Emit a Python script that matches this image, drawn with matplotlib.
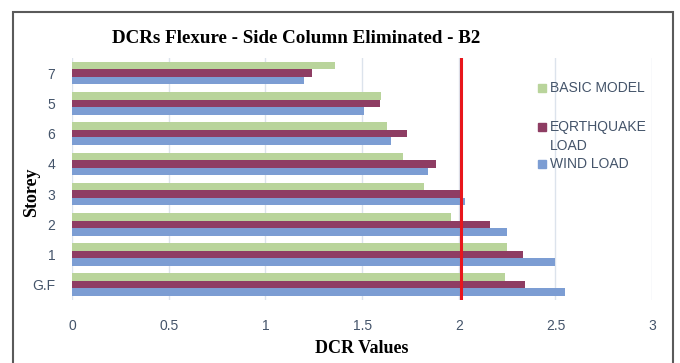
import matplotlib.pyplot as plt
import numpy as np
from matplotlib.patches import Rectangle

# data, listed top to bottom
storeys = ['7', '5', '6', '4', '3', '2', '1', 'G.F']
basic_model = [1.36, 1.60, 1.63, 1.71, 1.82, 1.96, 2.25, 2.24]
earthquake_load = [1.24, 1.59, 1.73, 1.88, 2.01, 2.16, 2.33, 2.34]
wind_load = [1.20, 1.51, 1.65, 1.84, 2.03, 2.25, 2.50, 2.55]
dcr_limit = 2.01
x_ticks = [0, 0.5, 1, 1.5, 2, 2.5, 3]
x_tick_labels = ['0', '0.5', '1', '1.5', '2', '2.5', '3']

series = [
    ('BASIC MODEL', basic_model, '#B9D49B'),
    ('EQRTHQUAKE\nLOAD', earthquake_load, '#8E3D63'),
    ('WIND LOAD', wind_load, '#7C9DD3'),
]

narrow = ['Liberation Sans Narrow', 'Liberation Sans', 'DejaVu Sans']
serif = ['Liberation Serif', 'DejaVu Serif']
text_col = '#44546A'

fig = plt.figure(figsize=(6.8, 3.63), dpi=100)
ax = fig.add_axes([0.106, 0.174, 0.853, 0.666])

y = np.arange(len(storeys))
h = 0.248
for i, (name, vals, col) in enumerate(series):
    ax.barh(y + (i - 1) * h, vals, height=h, color=col, edgecolor='none', zorder=2)

ax.axvline(dcr_limit, color='#E8161C', lw=2.2, zorder=3)

ax.set_xlim(0, 3)
ax.set_ylim(len(storeys) - 0.5, -0.5)
ax.set_xticks(x_ticks)
ax.set_xticklabels(x_tick_labels, family=narrow, fontsize=10, color=text_col)
ax.set_yticks(y)
ax.set_yticklabels(storeys, family=narrow, fontsize=10, color=text_col)
ax.tick_params(axis='x', length=0, pad=14)
ax.tick_params(axis='y', length=0, pad=12)
ax.grid(axis='x', color='#DCE3EC', lw=1, zorder=0)
for s in ax.spines.values():
    s.set_visible(False)

ax.set_xlabel('DCR Values', family=serif, fontweight='bold', fontsize=13, labelpad=5)
ax.set_ylabel('Storey', family=serif, fontweight='bold', fontsize=13)
ax.yaxis.set_label_coords(-0.055, 0.446)

fig.text(0.165, 0.895, 'DCRs Flexure - Side Column Eliminated - B2', family=serif,
         fontweight='bold', fontsize=13.7, va='center', ha='left')

# hand-placed legend, as in the original chart
leg_y = [0.876, 0.715, 0.562]
for (name, vals, col), ly in zip(series, leg_y):
    ax.plot([0.811], [ly], marker='s', ms=6, color=col, transform=ax.transAxes,
            clip_on=False, zorder=4)
    first, *rest = name.split('\n')
    ax.text(0.824, ly, first, transform=ax.transAxes, family=narrow, fontsize=10,
            color=text_col, va='center')
    for k, line in enumerate(rest, start=1):
        ax.text(0.824, ly - k * 0.079, line, transform=ax.transAxes, family=narrow,
                fontsize=10, color=text_col, va='center')

fig.patches.append(Rectangle((0.019, -0.05), 0.970, 0.017 + 0.05 + 0.95,
                             transform=fig.transFigure, fill=False,
                             edgecolor='#5A5A5A', lw=1.5))

fig.savefig('out.png', dpi=100)
